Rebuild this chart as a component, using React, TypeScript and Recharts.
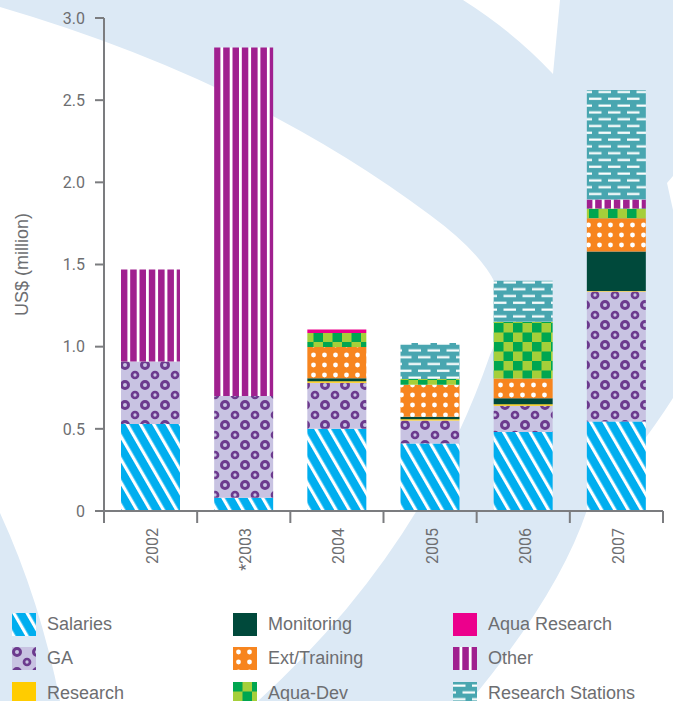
import React from 'react';
import { BarChart, Bar, XAxis, YAxis, Legend } from 'recharts';

const years = ['2002', '*2003', '2004', '2005', '2006', '2007'];
const salaries = [0.53, 0.08, 0.5, 0.41, 0.48, 0.545];
const ga = [0.38, 0.62, 0.28, 0.14, 0.16, 0.79];
const research = [0, 0, 0.01, 0.008, 0.01, 0.004];
const monitoring = [0, 0, 0.018, 0.016, 0.036, 0.24];
const extTraining = [0, 0, 0.19, 0.195, 0.12, 0.203];
const aquaDev = [0, 0, 0.085, 0.035, 0.345, 0.059];
const aquaResearch = [0, 0, 0.022, 0, 0, 0];
const other = [0.56, 2.12, 0, 0, 0, 0.055];
const researchStations = [0, 0, 0, 0.219, 0.25, 0.666];
const yTicks = [0, 0.5, 1, 1.5, 2, 2.5, 3];

// stacking order, bottom to top (also legend order, column by column)
const series = [
  { key: 'salaries', name: 'Salaries', values: salaries, fill: 'url(#p-sal)' },
  { key: 'ga', name: 'GA', values: ga, fill: 'url(#p-ga)' },
  { key: 'research', name: 'Research', values: research, fill: '#ffcc00' },
  { key: 'monitoring', name: 'Monitoring', values: monitoring, fill: '#00493b' },
  { key: 'ext', name: 'Ext/Training', values: extTraining, fill: 'url(#p-ext)' },
  { key: 'aquaDev', name: 'Aqua-Dev', values: aquaDev, fill: 'url(#p-dev)' },
  { key: 'aquaResearch', name: 'Aqua Research', values: aquaResearch, fill: '#ec008c' },
  { key: 'other', name: 'Other', values: other, fill: 'url(#p-oth)' },
  { key: 'stations', name: 'Research Stations', values: researchStations, fill: 'url(#p-rs)' },
];

const data = years.map((year, i) => {
  const row: any = { year };
  series.forEach(s => { row[s.key] = s.values[i]; });
  return row;
});

const W = 673;
const H = 701;
const margin = { top: 18, right: 10, left: 0, bottom: 130 };
const Y_W = 104;
const X_H = 60;
const BAND = (W - margin.left - Y_W - margin.right) / years.length;
const AXIS = '#7b7c7f';
const TEXT = '#6d6e71';

const Patterns = () => (
  <svg width={0} height={0} style={{ position: 'absolute' }}>
    <defs>
      <pattern id="p-sal" patternUnits="userSpaceOnUse" width={11.5} height={11.5} patternTransform="rotate(-30)">
        <rect width={11.5} height={11.5} fill="#00aeef" />
        <rect width={3.2} height={11.5} fill="#fff" />
      </pattern>
      <pattern id="p-ga" patternUnits="userSpaceOnUse" width={20} height={20}>
        <rect width={20} height={20} fill="#c8c3e2" />
        <circle cx={5} cy={5} r={3.5} fill="none" stroke="#6c3a8e" strokeWidth={3} />
        <circle cx={15} cy={15} r={3} fill="none" stroke="#6c3a8e" strokeWidth={2.7} />
      </pattern>
      <pattern id="p-ext" patternUnits="userSpaceOnUse" width={11} height={10}>
        <rect width={11} height={10} fill="#f7851f" />
        <circle cx={5.5} cy={5} r={2.4} fill="#fff" />
      </pattern>
      <pattern id="p-dev" patternUnits="userSpaceOnUse" width={19} height={19}>
        <rect width={19} height={19} fill="#a5cf3a" />
        <rect width={9.5} height={9.5} fill="#00a650" />
        <rect x={9.5} y={9.5} width={9.5} height={9.5} fill="#00a650" />
      </pattern>
      <pattern id="p-oth" patternUnits="userSpaceOnUse" width={9.3} height={10}>
        <rect width={9.3} height={10} fill="#a0208f" />
        <rect x={6.5} width={2.8} height={10} fill="#fff" />
      </pattern>
      <pattern id="p-rs" patternUnits="userSpaceOnUse" width={19} height={13.6}>
        <rect width={19} height={13.6} fill="#49a6b0" />
        <rect x={0} y={2.5} width={12.5} height={2.2} fill="#fff" />
        <rect x={9.5} y={9.3} width={12.5} height={2.2} fill="#fff" />
        <rect x={-9.5} y={9.3} width={12.5} height={2.2} fill="#fff" />
      </pattern>
    </defs>
  </svg>
);

// the light blue swoosh behind the chart
const Backdrop = () => (
  <svg width={W} height={H} style={{ position: 'absolute', left: 0, top: 0 }}>
    <rect width={W} height={H} fill="#dce9f5" />
    <path d="M0,7 Q250,80 430,215 Q502,268 502,310 Q500,335 490,355 Q422,552 258,701 L60,701 Q40,600 0,513 Z" fill="#fff" />
    <path d="M463,0 L560,0 L553,74 Q515,33 463,0 Z" fill="#fff" />
    <path d="M673,398 Q640,450 587,510 Q559,594 470,701 L673,701 Z" fill="#fff" />
    <path d="M673,176 L667,183 L673,210 Z" fill="#fff" />
  </svg>
);

const XTick = (props: any) => {
  const { x, y, payload, index } = props;
  const half = BAND / 2;
  const lx = x + 2;
  const ly = y + 17;
  return (
    <g>
      <line x1={x - half} x2={x - half} y1={y} y2={y + 12} stroke={AXIS} strokeWidth={2} />
      {index === years.length - 1 && (
        <line x1={x + half} x2={x + half} y1={y} y2={y + 12} stroke={AXIS} strokeWidth={2} />
      )}
      <text
        x={lx}
        y={ly}
        transform={`rotate(-90 ${lx} ${ly})`}
        textAnchor="end"
        dominantBaseline="central"
        fill={TEXT}
        fontSize={16}
        fontFamily="Roboto, sans-serif"
      >
        {payload.value}
      </text>
    </g>
  );
};

const LegendGrid = () => (
  <div
    style={{
      display: 'grid',
      gridTemplateColumns: '221px 220px 232px',
      gridTemplateRows: 'repeat(3, 34.5px)',
      gridAutoFlow: 'column',
      paddingLeft: 12,
      fontFamily: '"Liberation Sans", Arial, sans-serif',
      fontSize: 18,
      color: TEXT,
    }}
  >
    {series.map(s => (
      <div key={s.key} style={{ display: 'flex', alignItems: 'center', height: 34.5 }}>
        <svg width={24} height={23} style={{ flex: 'none' }}>
          <rect width={24} height={23} fill={s.fill} />
        </svg>
        <span style={{ marginLeft: 11, whiteSpace: 'nowrap' }}>{s.name}</span>
      </div>
    ))}
  </div>
);

const YLabel = (p: any) => {
  const vb = p.viewBox || { x: 0, y: margin.top, height: H - margin.top - margin.bottom - X_H };
  const cx = vb.x + 22;
  const cy = vb.y + vb.height / 2;
  return (
    <text
      x={cx}
      y={cy}
      transform={`rotate(-90 ${cx} ${cy})`}
      textAnchor="middle"
      dominantBaseline="central"
      fill={TEXT}
      fontSize={18}
      fontFamily='"Liberation Sans", Arial, sans-serif'
    >
      US$ (million)
    </text>
  );
};

const FundingChart = () => {
  return (
    <div style={{ position: 'absolute', left: 0, top: 0, width: W, height: H, background: '#fff' }}>
      <Backdrop />
      <Patterns />
      <div style={{ position: 'absolute', left: 0, top: 0 }}>
        <BarChart width={W} height={H} data={data} margin={margin} barSize={59}>
          <XAxis
            dataKey="year"
            height={X_H}
            interval={0}
            tickLine={false}
            tickSize={0}
            tickMargin={0}
            axisLine={{ stroke: AXIS, strokeWidth: 2 }}
            tick={<XTick />}
          />
          <YAxis
            width={Y_W}
            domain={[0, 3]}
            ticks={yTicks}
            interval={0}
            tickSize={9}
            tickMargin={10}
            axisLine={{ stroke: AXIS, strokeWidth: 2 }}
            tickLine={{ stroke: AXIS, strokeWidth: 2 }}
            tick={{ fill: TEXT, fontSize: 16, fontFamily: 'Roboto, sans-serif' }}
            tickFormatter={(v: number) => (v === 0 ? '0' : v.toFixed(1))}
            label={{ content: YLabel }}
          />
          <Legend
            layout="horizontal"
            verticalAlign="middle"
            align="center"
            wrapperStyle={{ top: 606.75, left: 0, width: W }}
            content={LegendGrid}
          />
          {series.map(s => (
            <Bar
              key={s.key}
              dataKey={s.key}
              name={s.name}
              stackId="a"
              fill={s.fill}
              isAnimationActive={false}
            />
          ))}
        </BarChart>
      </div>
    </div>
  );
};

export default function App() {
  return <FundingChart />;
}
